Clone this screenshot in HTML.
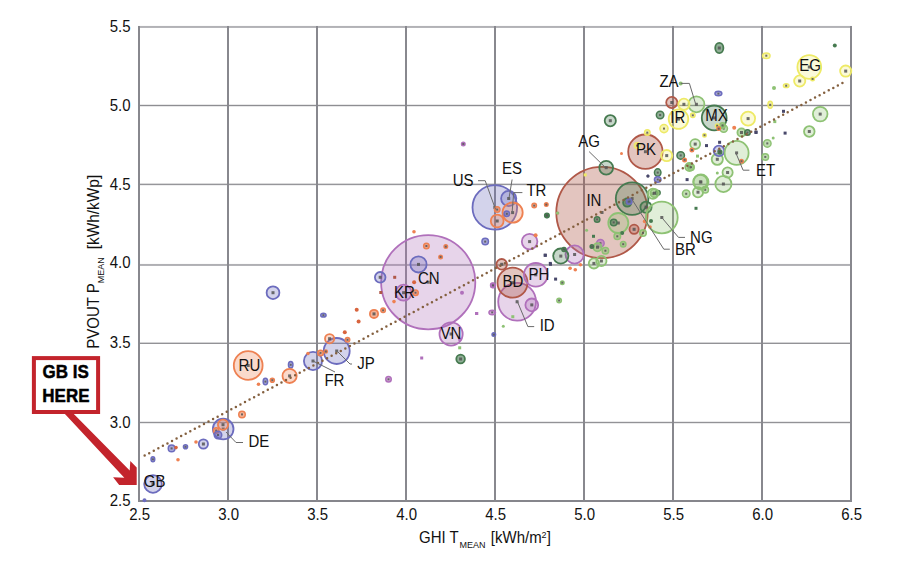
<!DOCTYPE html><html><head><meta charset="utf-8"><style>html,body{margin:0;padding:0;background:#fff;}body{width:900px;height:580px;overflow:hidden;position:relative;font-family:"Liberation Sans",sans-serif;}svg{position:absolute;left:0;top:0;}</style></head><body>
<svg width="900" height="580" viewBox="0 0 900 580">
<rect x="138" y="25.94" width="714" height="2.0" fill="#b2b2b6"/><rect x="138" y="104.80" width="714" height="1.4" fill="#8e8e92"/><rect x="138" y="183.65" width="714" height="1.5" fill="#96969a"/><rect x="138" y="263.94" width="714" height="2.0" fill="#b0b0b4"/><rect x="138" y="342.60" width="714" height="1.4" fill="#929296"/><rect x="138" y="421.80" width="714" height="1.4" fill="#929296"/><rect x="138" y="500.00" width="714" height="2.0" fill="#86868c"/><rect x="138" y="26" width="2" height="476" fill="#88888e"/><rect x="227" y="26" width="2" height="476" fill="#88888e"/><rect x="316" y="26" width="2" height="476" fill="#88888e"/><rect x="405" y="26" width="2" height="476" fill="#88888e"/><rect x="494" y="26" width="2" height="476" fill="#88888e"/><rect x="583" y="26" width="2" height="476" fill="#88888e"/><rect x="672" y="26" width="2" height="476" fill="#88888e"/><rect x="761" y="26" width="2" height="476" fill="#88888e"/><rect x="850" y="26" width="2" height="476" fill="#88888e"/>
<circle cx="153.0" cy="484.0" r="8.80" fill="#6c6cbe" fill-opacity="0.3" stroke="#6c6cbe" stroke-width="1.8"/><rect x="151.5" y="482.5" width="3" height="3" fill="#555" opacity="0.85"/><ellipse cx="152.9" cy="459.3" rx="1.85" ry="2.45" fill="#6c6cbe" fill-opacity="0.6" stroke="#6c6cbe" stroke-width="1.5"/><rect x="151.9" y="458.3" width="2" height="2" fill="#555" opacity="0.85"/><circle cx="178.0" cy="459.7" r="1.8" fill="#ee8152"/><circle cx="171.6" cy="448.4" r="3.35" fill="#6c6cbe" fill-opacity="0.6" stroke="#6c6cbe" stroke-width="1.5"/><rect x="170.6" y="447.4" width="2" height="2" fill="#555" opacity="0.85"/><circle cx="176.0" cy="447.6" r="1.8" fill="#d8643e"/><circle cx="185.5" cy="446.8" r="2.05" fill="#6c6cbe" fill-opacity="0.6" stroke="#6c6cbe" stroke-width="1.5"/><rect x="184.5" y="445.8" width="2" height="2" fill="#555" opacity="0.85"/><circle cx="196.0" cy="442.0" r="1.8" fill="#ee8152"/><circle cx="203.4" cy="444.0" r="4.60" fill="#6c6cbe" fill-opacity="0.3" stroke="#6c6cbe" stroke-width="1.8"/><rect x="201.9" y="442.5" width="3" height="3" fill="#555" opacity="0.85"/><circle cx="223.2" cy="429.0" r="10.30" fill="#6c6cbe" fill-opacity="0.3" stroke="#6c6cbe" stroke-width="1.8"/><rect x="221.7" y="427.5" width="3" height="3" fill="#555" opacity="0.85"/><circle cx="223.0" cy="424.7" r="5.10" fill="#ee8152" fill-opacity="0.3" stroke="#ee8152" stroke-width="1.8"/><rect x="221.5" y="423.2" width="3" height="3" fill="#555" opacity="0.85"/><circle cx="216.2" cy="430.6" r="2.75" fill="#ee8152" fill-opacity="0.6" stroke="#ee8152" stroke-width="1.5"/><rect x="215.2" y="429.6" width="2" height="2" fill="#555" opacity="0.85"/><circle cx="218.0" cy="435.0" r="3.75" fill="#6c6cbe" fill-opacity="0.6" stroke="#6c6cbe" stroke-width="1.5"/><rect x="217.0" y="434.0" width="2" height="2" fill="#555" opacity="0.85"/><circle cx="242.0" cy="414.4" r="3.25" fill="#ee8152" fill-opacity="0.6" stroke="#ee8152" stroke-width="1.5"/><rect x="241.0" y="413.4" width="2" height="2" fill="#555" opacity="0.85"/><circle cx="144.5" cy="500.3" r="2" fill="#6c6cbe"/><circle cx="248.2" cy="365.5" r="14.40" fill="#ee8152" fill-opacity="0.3" stroke="#ee8152" stroke-width="1.8"/><rect x="246.7" y="364.0" width="3" height="3" fill="#555" opacity="0.85"/><ellipse cx="290.7" cy="364.8" rx="2.25" ry="3.25" fill="#6c6cbe" fill-opacity="0.6" stroke="#6c6cbe" stroke-width="1.5"/><rect x="289.7" y="363.8" width="2" height="2" fill="#555" opacity="0.85"/><circle cx="289.6" cy="375.9" r="7.10" fill="#ee8152" fill-opacity="0.3" stroke="#ee8152" stroke-width="1.8"/><rect x="288.1" y="374.4" width="3" height="3" fill="#555" opacity="0.85"/><ellipse cx="265.4" cy="381.6" rx="2.25" ry="3.25" fill="#6c6cbe" fill-opacity="0.6" stroke="#6c6cbe" stroke-width="1.5"/><rect x="264.4" y="380.6" width="2" height="2" fill="#555" opacity="0.85"/><circle cx="272.3" cy="380.2" r="2.05" fill="#ee8152" fill-opacity="0.6" stroke="#ee8152" stroke-width="1.5"/><rect x="271.3" y="379.2" width="2" height="2" fill="#555" opacity="0.85"/><circle cx="258.5" cy="384.2" r="1.8" fill="#ee8152"/><circle cx="313.0" cy="361.0" r="9.10" fill="#6c6cbe" fill-opacity="0.3" stroke="#6c6cbe" stroke-width="1.8"/><rect x="311.5" y="359.5" width="3" height="3" fill="#555" opacity="0.85"/><circle cx="336.7" cy="351.0" r="13.00" fill="#6c6cbe" fill-opacity="0.3" stroke="#6c6cbe" stroke-width="1.8"/><rect x="335.2" y="349.5" width="3" height="3" fill="#555" opacity="0.85"/><circle cx="320.5" cy="352.9" r="2.75" fill="#ee8152" fill-opacity="0.6" stroke="#ee8152" stroke-width="1.5"/><rect x="319.5" y="351.9" width="2" height="2" fill="#555" opacity="0.85"/><circle cx="325.8" cy="351.5" r="1.55" fill="#ee8152" fill-opacity="0.6" stroke="#ee8152" stroke-width="1.5"/><rect x="324.8" y="350.5" width="2" height="2" fill="#555" opacity="0.85"/><circle cx="329.6" cy="338.7" r="4.60" fill="#ee8152" fill-opacity="0.3" stroke="#ee8152" stroke-width="1.8"/><rect x="328.1" y="337.2" width="3" height="3" fill="#555" opacity="0.85"/><circle cx="347.5" cy="339.8" r="2.25" fill="#ee8152" fill-opacity="0.6" stroke="#ee8152" stroke-width="1.5"/><rect x="346.5" y="338.8" width="2" height="2" fill="#555" opacity="0.85"/><ellipse cx="323.4" cy="315.2" rx="2.65" ry="1.85" fill="#6c6cbe" fill-opacity="0.6" stroke="#6c6cbe" stroke-width="1.5"/><rect x="322.4" y="314.2" width="2" height="2" fill="#555" opacity="0.85"/><circle cx="308.0" cy="353.5" r="1.8" fill="#ee8152"/><circle cx="273.0" cy="292.7" r="6.40" fill="#6c6cbe" fill-opacity="0.3" stroke="#6c6cbe" stroke-width="1.8"/><rect x="271.5" y="291.2" width="3" height="3" fill="#555" opacity="0.85"/><circle cx="374.0" cy="313.9" r="4.10" fill="#ee8152" fill-opacity="0.6" stroke="#ee8152" stroke-width="1.8"/><rect x="372.5" y="312.4" width="3" height="3" fill="#555" opacity="0.85"/><circle cx="383.1" cy="310.3" r="2.25" fill="#ee8152" fill-opacity="0.6" stroke="#ee8152" stroke-width="1.5"/><rect x="382.1" y="309.3" width="2" height="2" fill="#555" opacity="0.85"/><circle cx="356.7" cy="309.7" r="2" fill="#d8643e"/><circle cx="358.6" cy="321.6" r="2" fill="#d8643e"/><circle cx="344.8" cy="332.2" r="2" fill="#d8643e"/><circle cx="428.2" cy="282.2" r="47.10" fill="#b070bb" fill-opacity="0.3" stroke="#b070bb" stroke-width="1.8"/><rect x="426.7" y="280.7" width="3" height="3" fill="#555" opacity="0.85"/><circle cx="451.1" cy="334.0" r="11.60" fill="#b070bb" fill-opacity="0.3" stroke="#b070bb" stroke-width="1.8"/><rect x="449.6" y="332.5" width="3" height="3" fill="#555" opacity="0.85"/><rect x="475.1" y="312.0" width="3" height="3" fill="#b070bb"/><rect x="458.2" y="337.8" width="3" height="3" fill="#b070bb"/><rect x="458.2" y="346.3" width="3" height="3" fill="#8ec274"/><circle cx="460.6" cy="359.0" r="4.30" fill="#467a50" fill-opacity="0.6" stroke="#467a50" stroke-width="1.8"/><rect x="459.1" y="357.5" width="3" height="3" fill="#555" opacity="0.85"/><rect x="420.2" y="356.5" width="3" height="3" fill="#b070bb"/><circle cx="388.5" cy="379.3" r="2.75" fill="#b070bb" fill-opacity="0.6" stroke="#b070bb" stroke-width="1.5"/><rect x="387.5" y="378.3" width="2" height="2" fill="#555" opacity="0.85"/><circle cx="418.5" cy="264.4" r="8.10" fill="#6c6cbe" fill-opacity="0.3" stroke="#6c6cbe" stroke-width="1.8"/><rect x="417.0" y="262.9" width="3" height="3" fill="#555" opacity="0.85"/><circle cx="426.4" cy="246.0" r="2.75" fill="#ee8152" fill-opacity="0.6" stroke="#ee8152" stroke-width="1.5"/><rect x="425.4" y="245.0" width="2" height="2" fill="#555" opacity="0.85"/><circle cx="445.8" cy="246.6" r="1.75" fill="#ee8152" fill-opacity="0.6" stroke="#ee8152" stroke-width="1.5"/><rect x="444.8" y="245.6" width="2" height="2" fill="#555" opacity="0.85"/><circle cx="440.6" cy="256.9" r="1.75" fill="#ee8152" fill-opacity="0.6" stroke="#ee8152" stroke-width="1.5"/><rect x="439.6" y="255.9" width="2" height="2" fill="#555" opacity="0.85"/><circle cx="380.2" cy="277.3" r="5.30" fill="#6c6cbe" fill-opacity="0.3" stroke="#6c6cbe" stroke-width="1.8"/><rect x="378.7" y="275.8" width="3" height="3" fill="#555" opacity="0.85"/><rect x="393.2" y="275.8" width="3" height="3" fill="#b05848"/><circle cx="414.1" cy="282.2" r="2" fill="#d8643e"/><circle cx="403.6" cy="292.7" r="8.00" fill="#b070bb" fill-opacity="0.3" stroke="#b070bb" stroke-width="1.8"/><rect x="402.1" y="291.2" width="3" height="3" fill="#555" opacity="0.85"/><circle cx="415.5" cy="292.7" r="2.75" fill="#ee8152" fill-opacity="0.6" stroke="#ee8152" stroke-width="1.5"/><rect x="414.5" y="291.7" width="2" height="2" fill="#555" opacity="0.85"/><rect x="379.3" y="291.0" width="3" height="3" fill="#b05848"/><circle cx="394.0" cy="301.6" r="1.8" fill="#ee8152"/><circle cx="414.0" cy="231.7" r="1.8" fill="#ee8152"/><circle cx="485.2" cy="241.6" r="3.25" fill="#6c6cbe" fill-opacity="0.6" stroke="#6c6cbe" stroke-width="1.5"/><rect x="484.2" y="240.6" width="2" height="2" fill="#555" opacity="0.85"/><circle cx="462.0" cy="292.7" r="2" fill="#b070bb"/><circle cx="492.8" cy="285.2" r="2.25" fill="#b070bb" fill-opacity="0.6" stroke="#b070bb" stroke-width="1.5"/><rect x="491.8" y="284.2" width="2" height="2" fill="#555" opacity="0.85"/><circle cx="463.3" cy="144.0" r="1.75" fill="#b070bb" fill-opacity="0.6" stroke="#b070bb" stroke-width="1.5"/><rect x="462.3" y="143.0" width="2" height="2" fill="#555" opacity="0.85"/><circle cx="494.8" cy="207.4" r="22.30" fill="#6c6cbe" fill-opacity="0.3" stroke="#6c6cbe" stroke-width="1.8"/><rect x="493.3" y="205.9" width="3" height="3" fill="#555" opacity="0.85"/><circle cx="508.7" cy="198.5" r="7.60" fill="#6c6cbe" fill-opacity="0.3" stroke="#6c6cbe" stroke-width="1.8"/><rect x="507.2" y="197.0" width="3" height="3" fill="#555" opacity="0.85"/><circle cx="512.6" cy="212.6" r="10.10" fill="#ee8152" fill-opacity="0.3" stroke="#ee8152" stroke-width="1.8"/><rect x="511.1" y="211.1" width="3" height="3" fill="#555" opacity="0.85"/><circle cx="497.2" cy="209.6" r="2.75" fill="#ee8152" fill-opacity="0.6" stroke="#ee8152" stroke-width="1.5"/><rect x="496.2" y="208.6" width="2" height="2" fill="#555" opacity="0.85"/><circle cx="497.2" cy="221.0" r="6.40" fill="#ee8152" fill-opacity="0.3" stroke="#ee8152" stroke-width="1.8"/><rect x="495.7" y="219.5" width="3" height="3" fill="#555" opacity="0.85"/><circle cx="506.8" cy="213.8" r="2.75" fill="#6c6cbe" fill-opacity="0.6" stroke="#6c6cbe" stroke-width="1.5"/><rect x="505.8" y="212.8" width="2" height="2" fill="#555" opacity="0.85"/><circle cx="534.2" cy="205.6" r="2.25" fill="#ee8152" fill-opacity="0.6" stroke="#ee8152" stroke-width="1.5"/><rect x="533.2" y="204.6" width="2" height="2" fill="#555" opacity="0.85"/><circle cx="546.2" cy="204.8" r="1.8" fill="#ee8152"/><circle cx="547.0" cy="215.7" r="1.75" fill="#467a50" fill-opacity="0.6" stroke="#467a50" stroke-width="1.5"/><rect x="546.0" y="214.7" width="2" height="2" fill="#555" opacity="0.85"/><circle cx="557.8" cy="213.0" r="1.5" fill="#8ec274"/><circle cx="501.7" cy="264.3" r="5.30" fill="#b05848" fill-opacity="0.35" stroke="#b05848" stroke-width="1.8"/><rect x="500.2" y="262.8" width="3" height="3" fill="#555" opacity="0.85"/><circle cx="517.1" cy="301.8" r="18.90" fill="#b070bb" fill-opacity="0.3" stroke="#b070bb" stroke-width="1.8"/><rect x="515.6" y="300.3" width="3" height="3" fill="#555" opacity="0.85"/><circle cx="512.5" cy="282.7" r="15.00" fill="#b05848" fill-opacity="0.35" stroke="#b05848" stroke-width="1.8"/><rect x="511.0" y="281.2" width="3" height="3" fill="#555" opacity="0.85"/><circle cx="535.8" cy="274.8" r="11.80" fill="#b070bb" fill-opacity="0.3" stroke="#b070bb" stroke-width="1.8"/><rect x="534.3" y="273.3" width="3" height="3" fill="#555" opacity="0.85"/><circle cx="531.8" cy="304.9" r="6.40" fill="#b070bb" fill-opacity="0.3" stroke="#b070bb" stroke-width="1.8"/><rect x="530.3" y="303.4" width="3" height="3" fill="#555" opacity="0.85"/><circle cx="493.0" cy="285.4" r="2.25" fill="#b070bb" fill-opacity="0.6" stroke="#b070bb" stroke-width="1.5"/><rect x="492.0" y="284.4" width="2" height="2" fill="#555" opacity="0.85"/><ellipse cx="492.2" cy="312.4" rx="3.25" ry="2.25" fill="#b070bb" fill-opacity="0.6" stroke="#b070bb" stroke-width="1.5"/><rect x="491.2" y="311.4" width="2" height="2" fill="#555" opacity="0.85"/><rect x="475.2" y="312.0" width="3" height="3" fill="#b070bb"/><rect x="511.3" y="315.2" width="3" height="3" fill="#8ec274"/><circle cx="503.3" cy="326.3" r="1.5" fill="#8ec274"/><circle cx="493.8" cy="334.6" r="1.75" fill="#6c6cbe" fill-opacity="0.6" stroke="#6c6cbe" stroke-width="1.5"/><rect x="492.8" y="333.6" width="2" height="2" fill="#555" opacity="0.85"/><circle cx="559.1" cy="300.5" r="2.25" fill="#8ec274" fill-opacity="0.56" stroke="#8ec274" stroke-width="1.5"/><rect x="558.1" y="299.5" width="2" height="2" fill="#555" opacity="0.85"/><circle cx="562.3" cy="282.7" r="1.75" fill="#8ec274" fill-opacity="0.56" stroke="#8ec274" stroke-width="1.5"/><rect x="561.3" y="281.7" width="2" height="2" fill="#555" opacity="0.85"/><rect x="554.1" y="277.6" width="3" height="3" fill="#48486a"/><rect x="549.0" y="262.8" width="3" height="3" fill="#48486a"/><rect x="543.8" y="253.8" width="3" height="3" fill="#48486a"/><circle cx="529.6" cy="241.6" r="7.80" fill="#b070bb" fill-opacity="0.3" stroke="#b070bb" stroke-width="1.8"/><rect x="528.1" y="240.1" width="3" height="3" fill="#555" opacity="0.85"/><circle cx="535.6" cy="235.2" r="2" fill="#ee8152"/><circle cx="602.0" cy="212.5" r="45.70" fill="#b05848" fill-opacity="0.35" stroke="#b05848" stroke-width="1.8"/><rect x="600.5" y="211.0" width="3" height="3" fill="#555" opacity="0.85"/><circle cx="632.1" cy="198.6" r="16.30" fill="#467a50" fill-opacity="0.3" stroke="#467a50" stroke-width="1.8"/><rect x="630.6" y="197.1" width="3" height="3" fill="#555" opacity="0.85"/><circle cx="627.2" cy="202.6" r="4.10" fill="#467a50" fill-opacity="0.6" stroke="#467a50" stroke-width="1.8"/><rect x="625.7" y="201.1" width="3" height="3" fill="#555" opacity="0.85"/><circle cx="629.2" cy="201.6" r="2.75" fill="#6c6cbe" fill-opacity="0.6" stroke="#6c6cbe" stroke-width="1.5"/><rect x="628.2" y="200.6" width="2" height="2" fill="#555" opacity="0.85"/><circle cx="646.0" cy="207.2" r="5.60" fill="#467a50" fill-opacity="0.3" stroke="#467a50" stroke-width="1.8"/><rect x="644.5" y="205.7" width="3" height="3" fill="#555" opacity="0.85"/><circle cx="652.9" cy="193.7" r="5.10" fill="#8ec274" fill-opacity="0.28" stroke="#8ec274" stroke-width="1.8"/><rect x="651.4" y="192.2" width="3" height="3" fill="#555" opacity="0.85"/><circle cx="657.9" cy="192.7" r="2.25" fill="#467a50" fill-opacity="0.6" stroke="#467a50" stroke-width="1.5"/><rect x="656.9" y="191.7" width="2" height="2" fill="#555" opacity="0.85"/><circle cx="661.8" cy="217.5" r="15.90" fill="#8ec274" fill-opacity="0.28" stroke="#8ec274" stroke-width="1.8"/><rect x="660.3" y="216.0" width="3" height="3" fill="#555" opacity="0.85"/><circle cx="618.3" cy="223.0" r="10.00" fill="#8ec274" fill-opacity="0.28" stroke="#8ec274" stroke-width="1.8"/><rect x="616.8" y="221.5" width="3" height="3" fill="#555" opacity="0.85"/><circle cx="613.7" cy="222.4" r="3.25" fill="#467a50" fill-opacity="0.6" stroke="#467a50" stroke-width="1.5"/><rect x="612.7" y="221.4" width="2" height="2" fill="#555" opacity="0.85"/><circle cx="634.1" cy="229.3" r="4.60" fill="#b05848" fill-opacity="0.35" stroke="#b05848" stroke-width="1.8"/><rect x="632.6" y="227.8" width="3" height="3" fill="#555" opacity="0.85"/><circle cx="643.0" cy="232.9" r="3.25" fill="#8ec274" fill-opacity="0.56" stroke="#8ec274" stroke-width="1.5"/><rect x="642.0" y="231.9" width="2" height="2" fill="#555" opacity="0.85"/><circle cx="617.3" cy="236.3" r="3.25" fill="#8ec274" fill-opacity="0.56" stroke="#8ec274" stroke-width="1.5"/><rect x="616.3" y="235.3" width="2" height="2" fill="#555" opacity="0.85"/><circle cx="623.2" cy="244.2" r="2.75" fill="#8ec274" fill-opacity="0.56" stroke="#8ec274" stroke-width="1.5"/><rect x="622.2" y="243.2" width="2" height="2" fill="#555" opacity="0.85"/><circle cx="622.2" cy="232.9" r="2" fill="#467a50"/><circle cx="597.1" cy="219.4" r="2.75" fill="#467a50" fill-opacity="0.6" stroke="#467a50" stroke-width="1.5"/><rect x="596.1" y="218.4" width="2" height="2" fill="#555" opacity="0.85"/><circle cx="586.6" cy="230.3" r="1.5" fill="#8ec274"/><rect x="592.0" y="234.8" width="3" height="3" fill="#467a50"/><circle cx="600.4" cy="243.2" r="3.75" fill="#b070bb" fill-opacity="0.6" stroke="#b070bb" stroke-width="1.5"/><rect x="599.4" y="242.2" width="2" height="2" fill="#555" opacity="0.85"/><circle cx="597.5" cy="247.2" r="4.10" fill="#8ec274" fill-opacity="0.56" stroke="#8ec274" stroke-width="1.8"/><rect x="596.0" y="245.7" width="3" height="3" fill="#555" opacity="0.85"/><circle cx="591.9" cy="246.6" r="1.75" fill="#467a50" fill-opacity="0.6" stroke="#467a50" stroke-width="1.5"/><rect x="590.9" y="245.6" width="2" height="2" fill="#555" opacity="0.85"/><circle cx="605.4" cy="250.7" r="3.25" fill="#8ec274" fill-opacity="0.56" stroke="#8ec274" stroke-width="1.5"/><rect x="604.4" y="249.7" width="2" height="2" fill="#555" opacity="0.85"/><circle cx="593.9" cy="263.4" r="5.10" fill="#8ec274" fill-opacity="0.28" stroke="#8ec274" stroke-width="1.8"/><rect x="592.4" y="261.9" width="3" height="3" fill="#555" opacity="0.85"/><circle cx="601.4" cy="261.0" r="5.10" fill="#8ec274" fill-opacity="0.28" stroke="#8ec274" stroke-width="1.8"/><rect x="599.9" y="259.5" width="3" height="3" fill="#555" opacity="0.85"/><circle cx="574.6" cy="254.5" r="9.10" fill="#b070bb" fill-opacity="0.3" stroke="#b070bb" stroke-width="1.8"/><rect x="573.1" y="253.0" width="3" height="3" fill="#555" opacity="0.85"/><circle cx="560.8" cy="256.1" r="7.60" fill="#467a50" fill-opacity="0.3" stroke="#467a50" stroke-width="1.8"/><rect x="559.3" y="254.6" width="3" height="3" fill="#555" opacity="0.85"/><circle cx="564.0" cy="249.5" r="2.05" fill="#467a50" fill-opacity="0.6" stroke="#467a50" stroke-width="1.5"/><rect x="563.0" y="248.5" width="2" height="2" fill="#555" opacity="0.85"/><circle cx="570.1" cy="268.3" r="1.8" fill="#ee8152"/><circle cx="575.3" cy="269.7" r="1.8" fill="#ee8152"/><circle cx="580.4" cy="264.7" r="1.8" fill="#ee8152"/><rect x="543.7" y="253.7" width="3" height="3" fill="#48486a"/><rect x="548.8" y="261.9" width="3" height="3" fill="#48486a"/><circle cx="546.3" cy="204.6" r="1.75" fill="#ee8152" fill-opacity="0.6" stroke="#ee8152" stroke-width="1.5"/><rect x="545.3" y="203.6" width="2" height="2" fill="#555" opacity="0.85"/><circle cx="546.9" cy="215.5" r="2.25" fill="#467a50" fill-opacity="0.6" stroke="#467a50" stroke-width="1.5"/><rect x="545.9" y="214.5" width="2" height="2" fill="#555" opacity="0.85"/><circle cx="557.4" cy="213.1" r="1.5" fill="#8ec274"/><circle cx="644.6" cy="221.4" r="1.8" fill="#ee8152"/><circle cx="650.0" cy="227.0" r="1.8" fill="#ee8152"/><circle cx="651.0" cy="221.0" r="2" fill="#467a50"/><rect x="583.7" y="173.4" width="3" height="3" fill="#eeea66"/><circle cx="648.0" cy="175.9" r="1.5" fill="#48486a"/><circle cx="654.5" cy="193.2" r="4.10" fill="#8ec274" fill-opacity="0.56" stroke="#8ec274" stroke-width="1.8"/><rect x="653.0" y="191.7" width="3" height="3" fill="#555" opacity="0.85"/><circle cx="606.2" cy="167.7" r="6.90" fill="#467a50" fill-opacity="0.3" stroke="#467a50" stroke-width="1.8"/><rect x="604.7" y="166.2" width="3" height="3" fill="#555" opacity="0.85"/><circle cx="645.4" cy="151.7" r="17.20" fill="#b05848" fill-opacity="0.35" stroke="#b05848" stroke-width="1.8"/><rect x="643.9" y="150.2" width="3" height="3" fill="#555" opacity="0.85"/><circle cx="647.3" cy="132.6" r="2.75" fill="#eeea66" fill-opacity="0.5" stroke="#eeea66" stroke-width="1.5"/><rect x="646.3" y="131.6" width="2" height="2" fill="#555" opacity="0.85"/><circle cx="637.1" cy="145.6" r="2.75" fill="#eeea66" fill-opacity="0.5" stroke="#eeea66" stroke-width="1.5"/><rect x="636.1" y="144.6" width="2" height="2" fill="#555" opacity="0.85"/><circle cx="666.7" cy="155.6" r="5.60" fill="#eeea66" fill-opacity="0.25" stroke="#eeea66" stroke-width="1.8"/><rect x="665.2" y="154.1" width="3" height="3" fill="#555" opacity="0.85"/><circle cx="680.7" cy="155.4" r="3.75" fill="#467a50" fill-opacity="0.6" stroke="#467a50" stroke-width="1.5"/><rect x="679.7" y="154.4" width="2" height="2" fill="#555" opacity="0.85"/><circle cx="621.5" cy="153.5" r="1.5" fill="#ee8152"/><ellipse cx="657.7" cy="172.6" rx="3.25" ry="3.75" fill="#467a50" fill-opacity="0.6" stroke="#467a50" stroke-width="1.5"/><rect x="656.7" y="171.6" width="2" height="2" fill="#555" opacity="0.85"/><ellipse cx="657.7" cy="179.5" rx="3.25" ry="2.75" fill="#6c6cbe" fill-opacity="0.6" stroke="#6c6cbe" stroke-width="1.5"/><rect x="656.7" y="178.5" width="2" height="2" fill="#555" opacity="0.85"/><circle cx="647.9" cy="176.0" r="1.5" fill="#48486a"/><circle cx="695.2" cy="144.1" r="5.00" fill="#8ec274" fill-opacity="0.28" stroke="#8ec274" stroke-width="1.8"/><rect x="693.7" y="142.6" width="3" height="3" fill="#555" opacity="0.85"/><circle cx="691.9" cy="150.0" r="1.75" fill="#ee8152" fill-opacity="0.6" stroke="#ee8152" stroke-width="1.5"/><rect x="690.9" y="149.0" width="2" height="2" fill="#555" opacity="0.85"/><circle cx="684.6" cy="159.9" r="1.75" fill="#ee8152" fill-opacity="0.6" stroke="#ee8152" stroke-width="1.5"/><rect x="683.6" y="158.9" width="2" height="2" fill="#555" opacity="0.85"/><circle cx="689.4" cy="167.0" r="4.10" fill="#8ec274" fill-opacity="0.56" stroke="#8ec274" stroke-width="1.8"/><rect x="687.9" y="165.5" width="3" height="3" fill="#555" opacity="0.85"/><rect x="685.6" y="178.1" width="3" height="3" fill="#48486a"/><rect x="696.0" y="154.6" width="3" height="3" fill="#8ec274"/><circle cx="686.2" cy="193.8" r="3.75" fill="#8ec274" fill-opacity="0.56" stroke="#8ec274" stroke-width="1.5"/><rect x="685.2" y="192.8" width="2" height="2" fill="#555" opacity="0.85"/><circle cx="698.0" cy="192.2" r="5.10" fill="#8ec274" fill-opacity="0.28" stroke="#8ec274" stroke-width="1.8"/><rect x="696.5" y="190.7" width="3" height="3" fill="#555" opacity="0.85"/><rect x="694.5" y="206.8" width="3" height="3" fill="#467a50"/><circle cx="700.4" cy="181.9" r="7.00" fill="#8ec274" fill-opacity="0.28" stroke="#8ec274" stroke-width="1.8"/><rect x="698.9" y="180.4" width="3" height="3" fill="#555" opacity="0.85"/><circle cx="705.2" cy="189.8" r="3.25" fill="#8ec274" fill-opacity="0.56" stroke="#8ec274" stroke-width="1.5"/><rect x="704.2" y="188.8" width="2" height="2" fill="#555" opacity="0.85"/><circle cx="723.4" cy="184.0" r="8.10" fill="#8ec274" fill-opacity="0.28" stroke="#8ec274" stroke-width="1.8"/><rect x="721.9" y="182.5" width="3" height="3" fill="#555" opacity="0.85"/><circle cx="727.6" cy="172.5" r="5.10" fill="#8ec274" fill-opacity="0.28" stroke="#8ec274" stroke-width="1.8"/><rect x="726.1" y="171.0" width="3" height="3" fill="#555" opacity="0.85"/><circle cx="717.3" cy="173.1" r="1.5" fill="#8ec274"/><circle cx="691.0" cy="167.2" r="3.25" fill="#8ec274" fill-opacity="0.56" stroke="#8ec274" stroke-width="1.5"/><rect x="690.0" y="166.2" width="2" height="2" fill="#555" opacity="0.85"/><ellipse cx="719.3" cy="48.0" rx="4.10" ry="5.10" fill="#467a50" fill-opacity="0.6" stroke="#467a50" stroke-width="1.8"/><rect x="717.8" y="46.5" width="3" height="3" fill="#555" opacity="0.85"/><ellipse cx="718.4" cy="93.6" rx="3.45" ry="2.25" fill="#6c6cbe" fill-opacity="0.6" stroke="#6c6cbe" stroke-width="1.5"/><rect x="717.4" y="92.6" width="2" height="2" fill="#555" opacity="0.85"/><circle cx="680.7" cy="83.4" r="2" fill="#8ec274"/><circle cx="678.5" cy="119.1" r="9.80" fill="#eeea66" fill-opacity="0.25" stroke="#eeea66" stroke-width="1.8"/><rect x="677.0" y="117.6" width="3" height="3" fill="#555" opacity="0.85"/><circle cx="696.4" cy="104.3" r="8.00" fill="#8ec274" fill-opacity="0.28" stroke="#8ec274" stroke-width="1.8"/><rect x="694.9" y="102.8" width="3" height="3" fill="#555" opacity="0.85"/><circle cx="671.8" cy="102.5" r="5.60" fill="#b05848" fill-opacity="0.35" stroke="#b05848" stroke-width="1.8"/><rect x="670.3" y="101.0" width="3" height="3" fill="#555" opacity="0.85"/><circle cx="683.9" cy="104.3" r="5.60" fill="#eeea66" fill-opacity="0.25" stroke="#eeea66" stroke-width="1.8"/><rect x="682.4" y="102.8" width="3" height="3" fill="#555" opacity="0.85"/><circle cx="692.8" cy="115.3" r="2.25" fill="#eeea66" fill-opacity="0.5" stroke="#eeea66" stroke-width="1.5"/><rect x="691.8" y="114.3" width="2" height="2" fill="#555" opacity="0.85"/><circle cx="714.2" cy="117.9" r="12.40" fill="#467a50" fill-opacity="0.3" stroke="#467a50" stroke-width="1.8"/><rect x="712.7" y="116.4" width="3" height="3" fill="#555" opacity="0.85"/><circle cx="660.1" cy="115.0" r="3.75" fill="#467a50" fill-opacity="0.6" stroke="#467a50" stroke-width="1.5"/><rect x="659.1" y="114.0" width="2" height="2" fill="#555" opacity="0.85"/><circle cx="610.3" cy="120.7" r="5.60" fill="#467a50" fill-opacity="0.3" stroke="#467a50" stroke-width="1.8"/><rect x="608.8" y="119.2" width="3" height="3" fill="#555" opacity="0.85"/><circle cx="664.0" cy="128.6" r="4.05" fill="#eeea66" fill-opacity="0.5" stroke="#eeea66" stroke-width="1.5"/><rect x="663.0" y="127.6" width="2" height="2" fill="#555" opacity="0.85"/><circle cx="723.7" cy="128.6" r="3.75" fill="#8ec274" fill-opacity="0.56" stroke="#8ec274" stroke-width="1.5"/><rect x="722.7" y="127.6" width="2" height="2" fill="#555" opacity="0.85"/><circle cx="722.5" cy="125.4" r="2.75" fill="#8ec274" fill-opacity="0.56" stroke="#8ec274" stroke-width="1.5"/><rect x="721.5" y="124.4" width="2" height="2" fill="#555" opacity="0.85"/><circle cx="717.2" cy="125.7" r="1.75" fill="#eeea66" fill-opacity="0.5" stroke="#eeea66" stroke-width="1.5"/><rect x="716.2" y="124.7" width="2" height="2" fill="#555" opacity="0.85"/><circle cx="718.7" cy="128.6" r="1.75" fill="#ee8152" fill-opacity="0.6" stroke="#ee8152" stroke-width="1.5"/><rect x="717.7" y="127.6" width="2" height="2" fill="#555" opacity="0.85"/><circle cx="734.2" cy="127.8" r="2" fill="#ee8152"/><circle cx="704.5" cy="135.2" r="1.75" fill="#eeea66" fill-opacity="0.5" stroke="#eeea66" stroke-width="1.5"/><rect x="703.5" y="134.2" width="2" height="2" fill="#555" opacity="0.85"/><rect x="705.0" y="144.1" width="3" height="3" fill="#48486a"/><rect x="718.1" y="140.8" width="3" height="3" fill="#48486a"/><circle cx="717.3" cy="159.3" r="5.60" fill="#8ec274" fill-opacity="0.28" stroke="#8ec274" stroke-width="1.8"/><rect x="715.8" y="157.8" width="3" height="3" fill="#555" opacity="0.85"/><circle cx="719.0" cy="150.9" r="5.30" fill="#6c6cbe" fill-opacity="0.3" stroke="#6c6cbe" stroke-width="1.8"/><rect x="717.5" y="149.4" width="3" height="3" fill="#555" opacity="0.85"/><circle cx="720.0" cy="152.0" r="1.75" fill="#467a50" fill-opacity="0.6" stroke="#467a50" stroke-width="1.5"/><rect x="719.0" y="151.0" width="2" height="2" fill="#555" opacity="0.85"/><circle cx="748.1" cy="118.6" r="7.00" fill="#eeea66" fill-opacity="0.25" stroke="#eeea66" stroke-width="1.8"/><rect x="746.6" y="117.1" width="3" height="3" fill="#555" opacity="0.85"/><circle cx="741.5" cy="132.5" r="4.10" fill="#8ec274" fill-opacity="0.56" stroke="#8ec274" stroke-width="1.8"/><rect x="740.0" y="131.0" width="3" height="3" fill="#555" opacity="0.85"/><circle cx="747.5" cy="132.5" r="2.75" fill="#467a50" fill-opacity="0.6" stroke="#467a50" stroke-width="1.5"/><rect x="746.5" y="131.5" width="2" height="2" fill="#555" opacity="0.85"/><rect x="754.5" y="131.0" width="3" height="3" fill="#48486a"/><rect x="773.3" y="120.1" width="3" height="3" fill="#8ec274"/><rect x="782.0" y="109.8" width="3" height="3" fill="#48486a"/><rect x="783.6" y="131.6" width="3" height="3" fill="#48486a"/><circle cx="809.3" cy="131.5" r="5.30" fill="#8ec274" fill-opacity="0.28" stroke="#8ec274" stroke-width="1.8"/><rect x="807.8" y="130.0" width="3" height="3" fill="#555" opacity="0.85"/><circle cx="820.2" cy="114.1" r="7.30" fill="#8ec274" fill-opacity="0.28" stroke="#8ec274" stroke-width="1.8"/><rect x="818.7" y="112.6" width="3" height="3" fill="#555" opacity="0.85"/><ellipse cx="770.2" cy="104.8" rx="2.25" ry="3.45" fill="#eeea66" fill-opacity="0.5" stroke="#eeea66" stroke-width="1.5"/><rect x="769.2" y="103.8" width="2" height="2" fill="#555" opacity="0.85"/><ellipse cx="786.2" cy="85.7" rx="2.75" ry="1.85" fill="#eeea66" fill-opacity="0.5" stroke="#eeea66" stroke-width="1.5"/><rect x="785.2" y="84.7" width="2" height="2" fill="#555" opacity="0.85"/><circle cx="773.2" cy="138.1" r="1.5" fill="#8ec274"/><circle cx="767.3" cy="143.4" r="3.75" fill="#8ec274" fill-opacity="0.56" stroke="#8ec274" stroke-width="1.5"/><rect x="766.3" y="142.4" width="2" height="2" fill="#555" opacity="0.85"/><circle cx="765.3" cy="156.9" r="3.25" fill="#8ec274" fill-opacity="0.56" stroke="#8ec274" stroke-width="1.5"/><rect x="764.3" y="155.9" width="2" height="2" fill="#555" opacity="0.85"/><circle cx="736.6" cy="152.9" r="12.00" fill="#8ec274" fill-opacity="0.28" stroke="#8ec274" stroke-width="1.8"/><rect x="735.1" y="151.4" width="3" height="3" fill="#555" opacity="0.85"/><circle cx="741.5" cy="161.2" r="1.75" fill="#ee8152" fill-opacity="0.6" stroke="#ee8152" stroke-width="1.5"/><rect x="740.5" y="160.2" width="2" height="2" fill="#555" opacity="0.85"/><circle cx="700.9" cy="182.0" r="7.60" fill="#8ec274" fill-opacity="0.28" stroke="#8ec274" stroke-width="1.8"/><rect x="699.4" y="180.5" width="3" height="3" fill="#555" opacity="0.85"/><circle cx="809.3" cy="67.0" r="11.90" fill="#eeea66" fill-opacity="0.25" stroke="#eeea66" stroke-width="1.8"/><rect x="807.8" y="65.5" width="3" height="3" fill="#555" opacity="0.85"/><circle cx="799.7" cy="81.0" r="5.60" fill="#eeea66" fill-opacity="0.25" stroke="#eeea66" stroke-width="1.8"/><rect x="798.2" y="79.5" width="3" height="3" fill="#555" opacity="0.85"/><circle cx="845.7" cy="71.1" r="5.60" fill="#eeea66" fill-opacity="0.25" stroke="#eeea66" stroke-width="1.8"/><rect x="844.2" y="69.6" width="3" height="3" fill="#555" opacity="0.85"/><circle cx="812.6" cy="79.0" r="1.75" fill="#eeea66" fill-opacity="0.5" stroke="#eeea66" stroke-width="1.5"/><rect x="811.6" y="78.0" width="2" height="2" fill="#555" opacity="0.85"/><ellipse cx="766.3" cy="55.7" rx="3.75" ry="2.75" fill="#eeea66" fill-opacity="0.5" stroke="#eeea66" stroke-width="1.5"/><rect x="765.3" y="54.7" width="2" height="2" fill="#555" opacity="0.85"/><circle cx="774.0" cy="88.1" r="2" fill="#8ec274"/><circle cx="834.8" cy="45.4" r="2" fill="#467a50"/><rect x="754.5" y="130.5" width="3" height="3" fill="#48486a"/>
<line x1="144.66" y1="455.6" x2="842.9" y2="82.76" stroke="#84603f" stroke-width="2.5" stroke-linecap="round" stroke-dasharray="0 5.17"/>
<polyline points="226.0,432.0 236.0,442.5 243.0,442.5" fill="none" stroke="#6a6a6a" stroke-width="1"/>
<polyline points="313.0,361.0 335.0,372.0" fill="none" stroke="#6a6a6a" stroke-width="1"/>
<polyline points="337.0,351.0 350.0,364.0 352.0,364.0" fill="none" stroke="#6a6a6a" stroke-width="1"/>
<polyline points="478.0,180.7 485.2,180.7 495.5,209.3" fill="none" stroke="#6a6a6a" stroke-width="1"/>
<polyline points="512.1,179.5 509.0,198.2" fill="none" stroke="#6a6a6a" stroke-width="1"/>
<polyline points="522.4,192.6 513.7,192.6 512.1,212.4" fill="none" stroke="#6a6a6a" stroke-width="1"/>
<polyline points="516.8,300.2 527.9,326.6 534.2,326.6" fill="none" stroke="#6a6a6a" stroke-width="1"/>
<polyline points="589.1,151.6 605.3,167.4" fill="none" stroke="#6a6a6a" stroke-width="1"/>
<polyline points="680.7,83.4 689.4,83.4 695.9,104.8" fill="none" stroke="#6a6a6a" stroke-width="1"/>
<polyline points="736.0,153.3 743.1,170.2 749.4,170.2" fill="none" stroke="#6a6a6a" stroke-width="1"/>
<polyline points="632.1,199.6 663.8,249.2 669.8,249.2" fill="none" stroke="#6a6a6a" stroke-width="1"/>
<polyline points="661.3,217.0 678.5,237.4 685.0,237.4" fill="none" stroke="#6a6a6a" stroke-width="1"/>
<text transform="translate(143.8,486.8) scale(1,1.08)" font-size="15" font-family="Liberation Sans" fill="#111">GB</text>
<text transform="translate(248.5,447.2) scale(1,1.08)" font-size="15" font-family="Liberation Sans" fill="#111">DE</text>
<text transform="translate(238.6,370.5) scale(1,1.08)" font-size="15" font-family="Liberation Sans" fill="#111">RU</text>
<text transform="translate(324.4,386.4) scale(1,1.08)" font-size="15" font-family="Liberation Sans" fill="#111">FR</text>
<text transform="translate(357.3,369.2) scale(1,1.08)" font-size="15" font-family="Liberation Sans" fill="#111">JP</text>
<text transform="translate(440.4,338.6) scale(1,1.08)" font-size="15" font-family="Liberation Sans" fill="#111">VN</text>
<text transform="translate(393.9,297.5) scale(1,1.08)" font-size="15" font-family="Liberation Sans" fill="#111">KR</text>
<text transform="translate(418.0,283.6) scale(1,1.08)" font-size="15" font-family="Liberation Sans" fill="#111">CN</text>
<text transform="translate(452.7,185.5) scale(1,1.08)" font-size="15" font-family="Liberation Sans" fill="#111">US</text>
<text transform="translate(502.1,173.9) scale(1,1.08)" font-size="15" font-family="Liberation Sans" fill="#111">ES</text>
<text transform="translate(526.4,195.8) scale(1,1.08)" font-size="15" font-family="Liberation Sans" fill="#111">TR</text>
<text transform="translate(502.5,286.7) scale(1,1.08)" font-size="15" font-family="Liberation Sans" fill="#111">BD</text>
<text transform="translate(528.6,279.9) scale(1,1.08)" font-size="15" font-family="Liberation Sans" fill="#111">PH</text>
<text transform="translate(539.7,331.4) scale(1,1.08)" font-size="15" font-family="Liberation Sans" fill="#111">ID</text>
<text transform="translate(586.4,206.4) scale(1,1.08)" font-size="15" font-family="Liberation Sans" fill="#111">IN</text>
<text transform="translate(578.2,146.7) scale(1,1.08)" font-size="15" font-family="Liberation Sans" fill="#111">AG</text>
<text transform="translate(636.0,154.7) scale(1,1.08)" font-size="15" font-family="Liberation Sans" fill="#111">PK</text>
<text transform="translate(659.4,86.9) scale(1,1.08)" font-size="15" font-family="Liberation Sans" fill="#111">ZA</text>
<text transform="translate(670.3,122.8) scale(1,1.08)" font-size="15" font-family="Liberation Sans" fill="#111">IR</text>
<text transform="translate(705.2,120.8) scale(1,1.08)" font-size="15" font-family="Liberation Sans" fill="#111">MX</text>
<text transform="translate(799.3,70.8) scale(1,1.08)" font-size="15" font-family="Liberation Sans" fill="#111">EG</text>
<text transform="translate(756.0,175.5) scale(1,1.08)" font-size="15" font-family="Liberation Sans" fill="#111">ET</text>
<text transform="translate(690.1,242.5) scale(1,1.08)" font-size="15" font-family="Liberation Sans" fill="#111">NG</text>
<text transform="translate(675.1,254.5) scale(1,1.08)" font-size="15" font-family="Liberation Sans" fill="#111">BR</text>
<text transform="translate(130.5,506) scale(1,1.08)" font-size="15" text-anchor="end" font-family="Liberation Sans" fill="#111">2.5</text>
<text transform="translate(130.5,428) scale(1,1.08)" font-size="15" text-anchor="end" font-family="Liberation Sans" fill="#111">3.0</text>
<text transform="translate(130.5,348) scale(1,1.08)" font-size="15" text-anchor="end" font-family="Liberation Sans" fill="#111">3.5</text>
<text transform="translate(130.5,268) scale(1,1.08)" font-size="15" text-anchor="end" font-family="Liberation Sans" fill="#111">4.0</text>
<text transform="translate(130.5,190) scale(1,1.08)" font-size="15" text-anchor="end" font-family="Liberation Sans" fill="#111">4.5</text>
<text transform="translate(130.5,111) scale(1,1.08)" font-size="15" text-anchor="end" font-family="Liberation Sans" fill="#111">5.0</text>
<text transform="translate(130.5,32) scale(1,1.08)" font-size="15" text-anchor="end" font-family="Liberation Sans" fill="#111">5.5</text>
<text transform="translate(139.7,520) scale(1,1.08)" font-size="15" text-anchor="middle" font-family="Liberation Sans" fill="#111">2.5</text>
<text transform="translate(228.7,520) scale(1,1.08)" font-size="15" text-anchor="middle" font-family="Liberation Sans" fill="#111">3.0</text>
<text transform="translate(317.7,520) scale(1,1.08)" font-size="15" text-anchor="middle" font-family="Liberation Sans" fill="#111">3.5</text>
<text transform="translate(406.7,520) scale(1,1.08)" font-size="15" text-anchor="middle" font-family="Liberation Sans" fill="#111">4.0</text>
<text transform="translate(495.7,520) scale(1,1.08)" font-size="15" text-anchor="middle" font-family="Liberation Sans" fill="#111">4.5</text>
<text transform="translate(584.7,520) scale(1,1.08)" font-size="15" text-anchor="middle" font-family="Liberation Sans" fill="#111">5.0</text>
<text transform="translate(673.7,520) scale(1,1.08)" font-size="15" text-anchor="middle" font-family="Liberation Sans" fill="#111">5.5</text>
<text transform="translate(762.7,520) scale(1,1.08)" font-size="15" text-anchor="middle" font-family="Liberation Sans" fill="#111">6.0</text>
<text transform="translate(851.7,520) scale(1,1.08)" font-size="15" text-anchor="middle" font-family="Liberation Sans" fill="#111">6.5</text>
<text transform="translate(419,543.3) scale(1,1.07)" font-size="15" font-family="Liberation Sans" fill="#111">GHI T<tspan font-size="9" dy="4" dx="0.8">MEAN</tspan><tspan dy="-4" dx="5.4">[kWh/m</tspan><tspan font-size="9" dy="-5">2</tspan><tspan dy="5">]</tspan></text>
<text transform="translate(99.3,348.7) rotate(-90) scale(1,1.07)" x="0" y="0" font-size="15" font-family="Liberation Sans" fill="#111">PVOUT P<tspan font-size="9" dy="4">MEAN</tspan><tspan dy="-4" dx="8" font-size="15.4">[kWh/kWp]</tspan></text>
<rect x="33.9" y="358.1" width="64.2" height="53.9" fill="#fff" stroke="#c3242c" stroke-width="4"/>
<polygon points="64.7,413.8 73.6,413.8 129.7,470.5 130.3,461 136.7,467.5 136.7,485 119.2,485 113.1,477.3 124.3,477.8" fill="#c3242c"/>
<text transform="translate(65.7,377.6) scale(0.97,1.09)" font-size="17.5" font-weight="bold" text-anchor="middle" font-family="Liberation Sans" fill="#000" stroke="#000" stroke-width="0.45">GB IS</text>
<text transform="translate(65.9,401.6) scale(0.97,1.09)" font-size="17.5" font-weight="bold" text-anchor="middle" font-family="Liberation Sans" fill="#000" stroke="#000" stroke-width="0.45">HERE</text>
</svg></body></html>
